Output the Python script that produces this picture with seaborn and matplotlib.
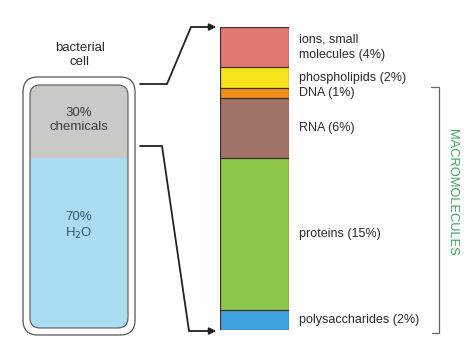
import matplotlib
matplotlib.use("Agg")
import matplotlib.pyplot as plt
import seaborn as sns
import pandas as pd
import numpy as np
from matplotlib.patches import FancyBboxPatch
from matplotlib.transforms import blended_transform_factory

sns.set_theme(style="white")
plt.rcParams['font.family'] = ['Liberation Sans', 'DejaVu Sans']

# ---- data ----
components = ["polysaccharides", "proteins", "RNA", "DNA", "phospholipids", "ions, small\nmolecules"]
percents = [2, 15, 6, 1, 2, 4]
colors = ["#3ea2e0", "#8dc84a", "#a07268", "#f0921a", "#f8e41c", "#e27a72"]
cell_parts = ["H$_2$O", "chemicals"]
cell_percents = [70, 30]
cell_colors = ["#aadcf2", "#c9cac5"]

W, H = 471, 349
fig = plt.figure(figsize=(W / 100, H / 100), dpi=100)
fig.patch.set_facecolor("white")

def frac(x0, y0, x1, y1):
    return [x0 / W, 1 - y1 / H, (x1 - x0) / W, (y1 - y0) / H]

# ---- stacked composition bar ----
axb = fig.add_axes(frac(220, 27, 289, 330))
cum = np.cumsum(percents)
df = pd.DataFrame({"component": components, "pct": percents, "cum": cum, "color": colors})
for i in range(len(df) - 1, -1, -1):
    row = df.iloc[[i]].assign(g="bar")
    sns.barplot(data=row, x="g", y="cum", color=row["color"].iloc[0], width=1.0,
                edgecolor="#3e3028", linewidth=0.9, saturation=1, ax=axb)
axb.set_xlim(-0.5, 0.5)
axb.set_ylim(0, cum[-1])
axb.axis("off")

tr = blended_transform_factory(axb.transAxes, axb.transData)
for name, p, c in zip(components, percents, cum):
    lab = f"{name} ({p}%)"
    axb.text(1.15, c - p / 2, lab, transform=tr, ha="left", va="center",
             fontsize=9, color="#2a2a2a", linespacing=1.3, clip_on=False)

# ---- cell fill (bar of water / chemicals) ----
inner_ax = fig.add_axes(frac(30, 85, 128, 328))
cdf = pd.DataFrame({"part": cell_parts, "pct": cell_percents})
cdf["cum"] = np.cumsum(cdf["pct"])
for i in range(len(cdf) - 1, -1, -1):
    row = cdf.iloc[[i]].assign(g="cell")
    sns.barplot(data=row, x="g", y="cum", color=cell_colors[i], width=1.0,
                linewidth=0, saturation=1, ax=inner_ax)
inner_ax.set_xlim(-0.5, 0.5)
inner_ax.set_ylim(0, cdf["cum"].iloc[-1])
inner_ax.axis("off")

# ---- overlay axes in pixel coords ----
ov = fig.add_axes([0, 0, 1, 1])
ov.set_xlim(0, W)
ov.set_ylim(H, 0)
ov.axis("off")
ov.set_zorder(5)

outer = FancyBboxPatch((23 + 15, 77 + 15), 112 - 30, 258 - 30,
                       boxstyle="round,pad=15", fc="none", ec="#555555", lw=0.9)
ov.add_patch(outer)
inner_edge = FancyBboxPatch((30 + 10, 85 + 10), 98 - 20, 243 - 20,
                            boxstyle="round,pad=10", fc="none", ec="#555555", lw=0.8)
ov.add_patch(inner_edge)
for patch in inner_ax.patches:
    patch.set_clip_path(inner_edge)

ov.text(80, 55, "bacterial\ncell", ha="center", va="center", fontsize=9.5,
        color="#2a2a2a", linespacing=1.2)
ov.text(79, 120, "30%\nchemicals", ha="center", va="center", fontsize=9.5,
        color="#3a3a3a", linespacing=1.2)
ov.text(79, 226, "70%\nH$_2$O", ha="center", va="center", fontsize=9.5,
        color="#2d5870", linespacing=1.2)

# ---- connector arrows ----
lc = "#222222"
ov.plot([140, 167, 191, 212], [84, 84, 27, 27], color=lc, lw=1.3, solid_joinstyle="miter")
ov.annotate("", xy=(219, 27), xytext=(205, 27),
            arrowprops=dict(arrowstyle="-|>", color=lc, lw=1.3, mutation_scale=10))
ov.plot([140, 162, 189, 212], [146, 146, 331, 331], color=lc, lw=1.3, solid_joinstyle="miter")
ov.annotate("", xy=(219, 331), xytext=(205, 331),
            arrowprops=dict(arrowstyle="-|>", color=lc, lw=1.3, mutation_scale=10))

# ---- bracket ----
bc = "#666666"
ov.plot([431, 439, 439, 432], [87, 87, 333, 333], color=bc, lw=0.9)
ov.text(452, 192, "MACROMOLECULES", rotation=-90, ha="center", va="center",
        fontsize=9.3, color="#3fa25e")

fig.savefig("out.png", dpi=100, facecolor="white")
